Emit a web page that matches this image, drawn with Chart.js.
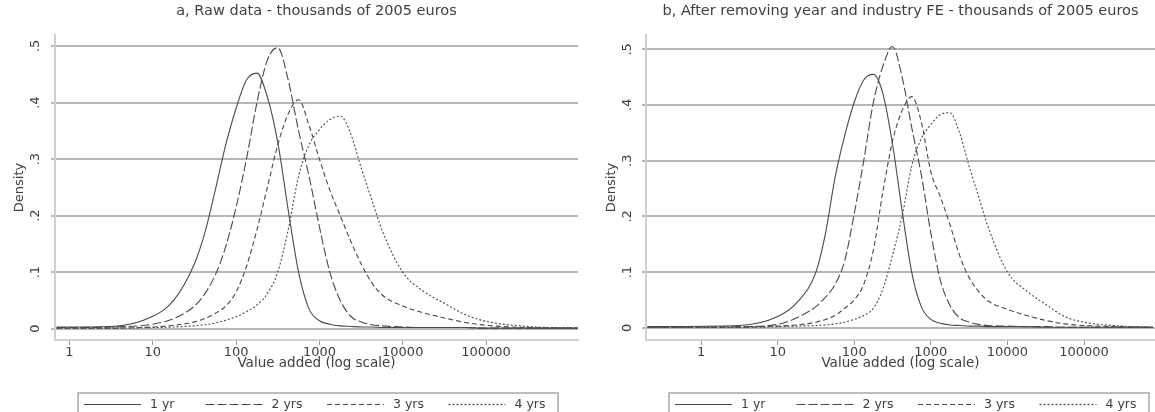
<!DOCTYPE html>
<html><head><meta charset="utf-8">
<script src="https://cdn.jsdelivr.net/npm/chart.js@4"></script>
<style>
html,body{margin:0;padding:0;background:#fff;overflow:hidden;width:1155px;height:412px}
#wa{position:absolute;left:0;top:0;width:580px;height:412px}
#wb{position:absolute;left:580px;top:0;width:575px;height:412px}
</style></head><body>
<div id="wa"><canvas id="ca" width="580" height="412"></canvas></div>
<div id="wb"><canvas id="cb" width="575" height="412"></canvas></div>
<script>
// ---- data ----
const seriesNames = ['1 yr', '2 yrs', '3 yrs', '4 yrs'];
const xTicks = [1, 10, 100, 1000, 10000, 100000];
const yTicks = [0, 0.1, 0.2, 0.3, 0.4, 0.5];
const yTickLabels = ['0', '.1', '.2', '.3', '.4', '.5'];
const titleA = 'a, Raw data - thousands of 2005 euros';
const titleB = 'b, After removing year and industry FE - thousands of 2005 euros';
const xTitle = 'Value added (log scale)';
const yTitle = 'Density';

// panel a: value added (thousands of euros) and densities
const xA = [0.7, 3.16, 10, 17.8, 31.6, 42.2, 56.2, 75, 100, 133, 178, 237, 316, 422, 562, 750, 1000, 1334, 1778, 2371, 3162, 4217, 5623, 10000, 17783, 31623, 56234, 100000, 316228, 1260000];
const a1yr = [.003, .004, .022, .05, .115, .17, .245, .325, .39, .44, .452, .41, .33, .21, .10, .035, .014, .008, .005, .004, .003, .003, .002, .002, .002, .002, .002, .001, .001, .001];
const a2yr = [.002, .003, .008, .018, .04, .062, .095, .145, .215, .30, .40, .475, .497, .44, .35, .27, .18, .10, .05, .022, .012, .007, .005, .003, .002, .002, .002, .001, .001, .001];
const a3yr = [.001, .001, .003, .006, .012, .018, .027, .04, .065, .11, .175, .25, .325, .38, .405, .36, .30, .245, .20, .155, .115, .082, .06, .04, .028, .019, .011, .006, .002, .001];
const a4yr = [.001, .001, .002, .003, .005, .007, .01, .015, .021, .03, .042, .062, .10, .175, .27, .325, .352, .37, .376, .345, .285, .23, .175, .10, .066, .045, .025, .013, .004, .001];

// panel b
const xB = [0.2, 3.16, 10, 17.8, 31.6, 42.2, 56.2, 75, 100, 133, 178, 237, 316, 422, 562, 750, 1000, 1334, 1778, 2371, 3162, 4217, 5623, 10000, 17783, 31623, 56234, 100000, 316228, 794000];
const b1yr = [.002, .004, .02, .045, .10, .17, .27, .345, .405, .445, .455, .42, .33, .21, .10, .038, .015, .008, .005, .004, .003, .003, .002, .002, .002, .001, .001, .001, .001, .001];
const b2yr = [.001, .002, .006, .018, .038, .055, .078, .12, .205, .30, .405, .47, .505, .45, .36, .275, .17, .085, .04, .018, .01, .006, .004, .003, .002, .002, .001, .001, .001, .001];
const b3yr = [.001, .001, .003, .005, .01, .015, .022, .035, .05, .078, .14, .245, .335, .39, .415, .37, .28, .235, .185, .13, .09, .065, .048, .033, .022, .013, .007, .004, .002, .001];
const b4yr = [.001, .001, .002, .003, .004, .005, .007, .01, .015, .022, .035, .07, .13, .20, .29, .34, .365, .383, .386, .35, .29, .235, .18, .10, .066, .042, .02, .01, .003, .001];

// ---- styles ----
const FONT = '"DejaVu Sans", "Liberation Sans", Arial, sans-serif';
const TXT = '#404040';
const LINE = '#4a4a4a';
const dashes = [[], [9, 3], [5, 3], [2, 2]];

const rotY = {
  id: 'rotY',
  afterDraw(chart, args, o) {
    const s = chart.scales.y, ctx = chart.ctx;
    ctx.save();
    ctx.fillStyle = TXT;
    ctx.font = '13px ' + FONT;
    ctx.textAlign = 'center';
    ctx.textBaseline = 'middle';
    yTicks.forEach((v, i) => {
      ctx.save();
      ctx.translate(o.x, s.getPixelForValue(v));
      ctx.rotate(-Math.PI / 2);
      ctx.fillText(yTickLabels[i], 0, 0);
      ctx.restore();
    });
    ctx.restore();
  }
};

const boxLegend = {
  id: 'boxLegend',
  afterDraw(chart, args, o) {
    const ca = chart.chartArea, ctx = chart.ctx;
    const left = ca.left + o.offset;
    ctx.save();
    ctx.strokeStyle = '#a8a8a8';
    ctx.lineWidth = 1.5;
    ctx.strokeRect(left, o.top, o.width, 40);
    ctx.font = '12.5px ' + FONT;
    ctx.fillStyle = TXT;
    ctx.textBaseline = 'middle';
    chart.data.datasets.forEach((ds, i) => {
      const x0 = left + 6 + i * o.stride;
      ctx.strokeStyle = ds.borderColor;
      ctx.lineWidth = 1.2;
      ctx.setLineDash(ds.borderDash || []);
      ctx.beginPath();
      ctx.moveTo(x0, o.top + 11.5);
      ctx.lineTo(x0 + o.len, o.top + 11.5);
      ctx.stroke();
      ctx.setLineDash([]);
      ctx.fillText(ds.label, x0 + o.len + 9, o.top + 12);
    });
    ctx.restore();
  }
};

function makeChart(id, p) {
  const datasets = p.series.map((arr, i) => ({
    label: seriesNames[i],
    data: p.xs.map((x, j) => ({ x: x, y: arr[j] })),
    borderColor: LINE,
    borderWidth: 1.1,
    borderDash: dashes[i],
    pointRadius: 0,
    fill: false,
    cubicInterpolationMode: 'monotone'
  }));
  return new Chart(document.getElementById(id), {
    type: 'line',
    data: { datasets },
    plugins: [rotY, boxLegend],
    options: {
      responsive: false,
      animation: false,
      devicePixelRatio: 1,
      layout: { padding: { left: 0, right: p.padRight, top: 0, bottom: 40 } },
      plugins: {
        legend: { display: false },
        tooltip: { enabled: false },
        title: {
          display: true, text: p.title, fullSize: false, color: TXT,
          font: { family: FONT, size: 14.5, weight: 'normal' },
          padding: { top: 3, bottom: 14.6 }
        },
        rotY: { x: p.yLabelX },
        boxLegend: { offset: 23, top: 393, width: 480, stride: 121.5, len: 57 }
      },
      scales: {
        x: {
          type: 'logarithmic', min: p.xmin, max: p.xmax,
          afterBuildTicks: s => { s.ticks = xTicks.map(v => ({ value: v })); },
          afterFit: s => { s.height = 32; },
          ticks: {
            autoSkip: false, maxRotation: 0, minRotation: 0, padding: 0, color: TXT,
            font: { family: FONT, size: 13 },
            callback: v => String(v)
          },
          grid: { drawOnChartArea: false, drawTicks: true, tickLength: 5, color: '#9a9a9a', lineWidth: 1 },
          border: { display: true, color: '#cfcfcf', width: 2 },
          title: { display: true, text: xTitle, color: TXT, font: { family: FONT, size: 13.5 }, padding: { top: 0, bottom: 0 } }
        },
        y: {
          min: p.ymin, max: p.ymax,
          afterBuildTicks: s => { s.ticks = yTicks.map(v => ({ value: v })); },
          afterFit: s => { s.width = p.yWidth; },
          ticks: { display: false },
          grid: { drawOnChartArea: true, drawTicks: true, tickLength: 4, color: '#b6b6b6', lineWidth: 2 },
          border: { display: true, color: '#cfcfcf', width: 2 },
          title: { display: true, text: yTitle, color: TXT, font: { family: FONT, size: 13 }, padding: { top: p.yTitlePad, bottom: 0 } }
        }
      }
    }
  });
}

makeChart('ca', {
  xs: xA, series: [a1yr, a2yr, a3yr, a4yr], title: titleA,
  xmin: 0.67, xmax: 1270000, ymin: -0.020, ymax: 0.5195,
  yWidth: 55, padRight: 2, yLabelX: 36, yTitlePad: 12
});
makeChart('cb', {
  xs: xB, series: [b1yr, b2yr, b3yr, b4yr], title: titleB,
  xmin: 0.191, xmax: 845000, ymin: -0.022, ymax: 0.5257,
  yWidth: 66, padRight: 0, yLabelX: 48, yTitlePad: 24
});
</script>
</body></html>
